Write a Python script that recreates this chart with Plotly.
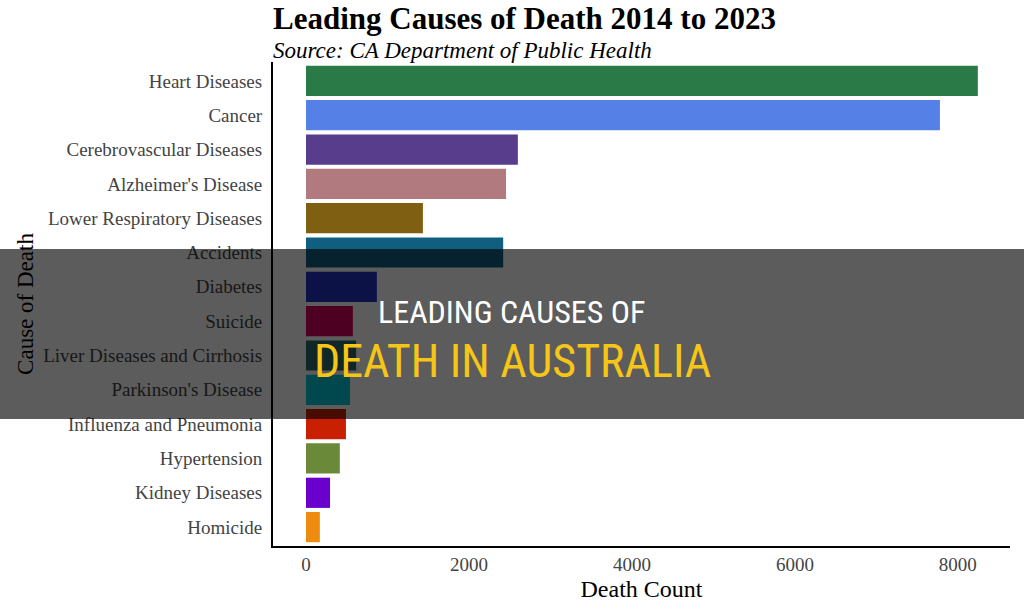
import plotly.graph_objects as go

causes = ["Heart Diseases", "Cancer", "Cerebrovascular Diseases", "Alzheimer's Disease",
          "Lower Respiratory Diseases", "Accidents", "Diabetes", "Suicide",
          "Liver Diseases and Cirrhosis", "Parkinson's Disease", "Influenza and Pneumonia",
          "Hypertension", "Kidney Diseases", "Homicide"]
deaths = [8245, 7780, 2600, 2455, 1435, 2420, 870, 575, 615, 540, 490, 415, 295, 170]
colors = ["#2a7a48", "#5580e6", "#573d8c", "#b07a7e", "#7f5f12", "#105e80", "#2232c0",
          "#d8005e", "#2e6e6e", "#00c8d8", "#c82000", "#6a8a3a", "#6a00cc", "#ee8c10"]
x_ticks = [0, 2000, 4000, 6000, 8000]

W, H = 1024, 614
L, R, T, B = 273, 14, 62, 68
pw, ph = W - L - R, H - T - B

fig = go.Figure(go.Bar(
    x=deaths, y=causes, orientation="h",
    marker=dict(color=colors, line=dict(width=0)),
))

serif = "Liberation Serif, Times New Roman, serif"
fig.update_layout(
    width=W, height=H,
    margin=dict(l=L, r=R, t=T, b=B),
    paper_bgcolor="white", plot_bgcolor="white",
    bargap=0.12,
    showlegend=False,
    font=dict(family=serif, color="#444444"),
    title=dict(text="<b>Leading Causes of Death 2014 to 2023</b>",
               x=L / W, xanchor="left", xref="container",
               y=1 - 18 / H, yanchor="middle", yref="container",
               font=dict(family=serif, size=31, color="black")),
    xaxis=dict(range=[-405, 8640], tickvals=x_ticks, ticktext=[str(v) for v in x_ticks],
               showgrid=False, zeroline=False, showline=True, linecolor="black", linewidth=2,
               ticks="", tickfont=dict(size=19, color="#444444"),
               title=dict(text="Death Count", font=dict(size=24, color="black"), standoff=6)),
    yaxis=dict(range=[13.55, -0.55], showgrid=False, zeroline=False, showline=True,
               linecolor="black", linewidth=2, ticks="", ticklabelstandoff=5,
               tickfont=dict(size=19, color="#444444"),
               title=dict(text="Cause of Death", font=dict(size=23, color="black"), standoff=3)),
)

fig.add_annotation(text="<i>Source: CA Department of Public Health</i>",
                   xref="paper", yref="paper", x=-2 / pw, y=(H - B - 50) / ph,
                   xanchor="left", yanchor="middle", showarrow=False,
                   font=dict(family=serif, size=23, color="black"))

# dark overlay band
fig.add_shape(type="rect", xref="paper", yref="paper",
              x0=-L / pw, x1=1 + R / pw,
              y0=(H - B - 419) / ph, y1=(H - B - 249) / ph,
              fillcolor="rgba(0,0,0,0.64)", line=dict(width=0), layer="above")

narrow = "Liberation Sans Narrow, Roboto Condensed, Roboto, sans-serif"
fig.add_annotation(text="LEADING CAUSES OF", xref="paper", yref="paper",
                   x=(511 - L) / pw, y=(H - B - 312) / ph, xanchor="center", yanchor="middle",
                   showarrow=False, font=dict(family=narrow, size=32, color="white"))
fig.add_annotation(text="DEATH IN AUSTRALIA", xref="paper", yref="paper",
                   x=(512 - L) / pw, y=(H - B - 361) / ph, xanchor="center", yanchor="middle",
                   showarrow=False, font=dict(family=narrow, size=46, color="#f5c518"))

fig.write_html("out.html")
